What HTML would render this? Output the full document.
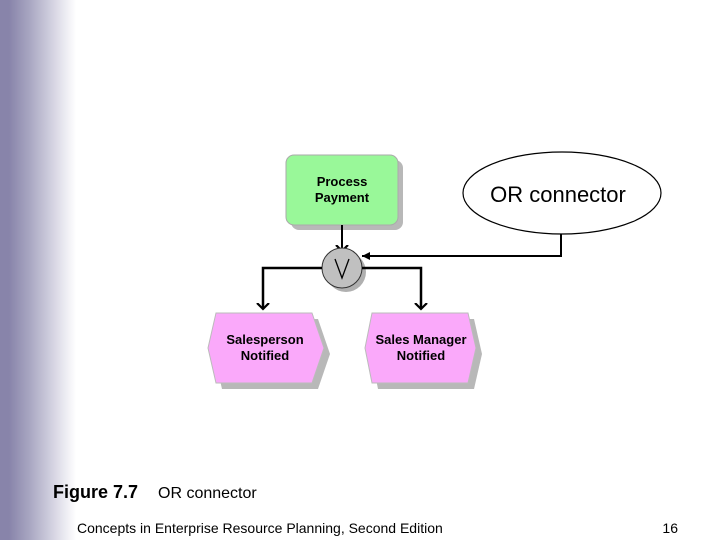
<!DOCTYPE html>
<html><head><style>
body{margin:0;width:720px;height:540px;overflow:hidden;background:#fff;position:relative;font-family:"Liberation Sans",sans-serif}
.g{position:absolute;left:0;top:0;width:80px;height:540px;background:linear-gradient(to right,#8884aa 0,#8884aa 9px,#a9a7c2 30px,#e6e5ee 62px,#fff 76px)}
</style></head><body>
<div class="g"></div>
<svg width="720" height="540" style="position:absolute;left:0;top:0" font-family="Liberation Sans, sans-serif">
<defs><marker id="a" markerWidth="14" markerHeight="14" refX="6" refY="7" orient="auto" markerUnits="userSpaceOnUse"><path d="M0,1 L6,7 L0,13" fill="none" stroke="#000" stroke-width="2.2"/></marker>
<marker id="b" markerWidth="8" markerHeight="8" refX="8" refY="4" orient="auto" markerUnits="userSpaceOnUse"><path d="M0,0 L8,4 L0,8z" fill="#000"/></marker></defs>
<rect x="291" y="160" width="112" height="70" rx="8" fill="#b8b8b8"/>
<rect x="286" y="155" width="112" height="70" rx="8" fill="#99f899" stroke="#aaa"/>
<text x="342" y="186" font-size="13" font-weight="bold" text-anchor="middle">Process</text>
<text x="342" y="202" font-size="13" font-weight="bold" text-anchor="middle">Payment</text>
<path d="M342 225 V251" stroke="#000" stroke-width="2" fill="none" marker-end="url(#a)"/>
<circle cx="346" cy="272" r="20" fill="#b0b0b0"/>
<circle cx="342" cy="268" r="20" fill="#c0c0c0" stroke="#333"/>
<path d="M335 259 L342 278 L349 259" fill="none" stroke="#000" stroke-width="1.3"/>
<path d="M322 268 H263 V309" stroke="#000" stroke-width="2.5" fill="none" marker-end="url(#a)"/>
<path d="M362 268 H421 V309" stroke="#000" stroke-width="2.5" fill="none" marker-end="url(#a)"/>
<path d="M561 234 V256 H362" stroke="#000" stroke-width="2" fill="none" marker-end="url(#b)"/>
<ellipse cx="562" cy="193" rx="99" ry="41" fill="#fff" stroke="#000" stroke-width="1.2"/>
<text x="558" y="202" font-size="22" text-anchor="middle">OR connector</text>
<polygon points="222,319 318,319 330,354 318,389 222,389 214,354" fill="#b8b8b8"/>
<polygon points="216,313 312,313 324,348 312,383 216,383 208,348" fill="#faa9fa" stroke="#bbb"/>
<text x="265" y="344" font-size="13" font-weight="bold" text-anchor="middle">Salesperson</text>
<text x="265" y="360" font-size="13" font-weight="bold" text-anchor="middle">Notified</text>
<polygon points="378,319 474,319 482,354 474,389 378,389 371,354" fill="#b8b8b8"/>
<polygon points="372,313 468,313 476,348 468,383 372,383 365,348" fill="#faa9fa" stroke="#bbb"/>
<text x="421" y="344" font-size="13" font-weight="bold" text-anchor="middle">Sales Manager</text>
<text x="421" y="360" font-size="13" font-weight="bold" text-anchor="middle">Notified</text>
<text x="53" y="498" font-size="18" font-weight="bold">Figure 7.7</text>
<text x="158" y="498" font-size="16">OR connector</text>
<text x="77" y="533" font-size="14">Concepts in Enterprise Resource Planning, Second Edition</text>
<text x="678" y="533" font-size="14" text-anchor="end">16</text>
</svg>
</body></html>
